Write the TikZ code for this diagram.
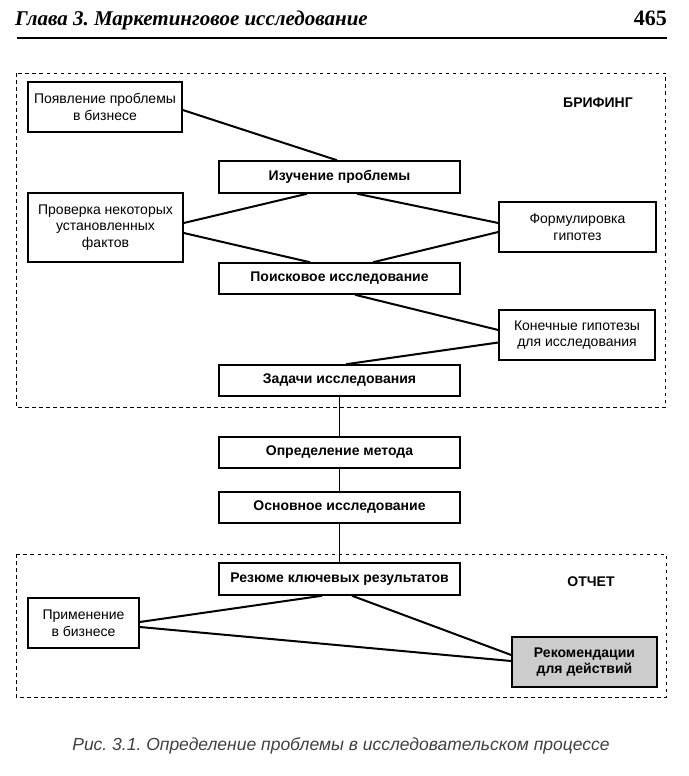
\documentclass[tikz,border=0pt]{standalone}
\usepackage{fontspec}
\setmainfont{Liberation Sans}
\newfontfamily\headfont{Liberation Serif}
\frenchspacing
\begin{document}
\begin{tikzpicture}[x=1pt,y=-1pt,
  box/.style={draw, line width=1.5pt, inner sep=0pt, align=center, font=\fontsize{14}{16.5}\selectfont},
  bbox/.style={box, font=\fontsize{14}{16.5}\selectfont\bfseries},
  link/.style={line width=2pt},
  frame/.style={line width=0.8pt, dash pattern=on 3.5pt off 3.5pt},
  lbl/.style={font=\fontsize{14}{16}\selectfont\bfseries, inner sep=0pt}]
\useasboundingbox (0,0) rectangle (688,776);
% header
\node[anchor=base west, inner sep=0pt, font=\headfont\fontsize{21}{24}\selectfont\bfseries\itshape] (hd) at (15,26) {Глава 3. Маркетинговое исследование};
\node[anchor=base east, inner sep=0pt, font=\headfont\fontsize{22}{24}\selectfont\bfseries] (pg) at (667,26) {465};
\draw[line width=1.4pt] (hd.base west) ++(2,12) coordinate (r1) -- (667,38) coordinate (r2);
% frames
\draw[frame] (16,73) rectangle (665,407);
\draw[frame] (16,554) rectangle (666,697);
\node[lbl] (brif) at (598,103) {БРИФИНГ};
\node[lbl] (otch) at (591,582) {ОТЧЕТ};
% nodes
\node[box, minimum width=154pt, minimum height=50pt] (p1) at (105,107) {Появление проблемы\\в бизнесе};
\node[bbox, minimum width=241pt, minimum height=32pt] (izuch) at (339.5,177) {Изучение проблемы};
\node[box, minimum width=155pt, minimum height=69pt] (prov) at (105.5,227.5) {Проверка некоторых\\установленных\\фактов};
\node[box, minimum width=157pt, minimum height=50pt] (form) at (577.5,227) {Формулировка\\гипотез};
\node[bbox, minimum width=241pt, minimum height=31pt] (poisk) at (339.5,278.5) {Поисковое исследование};
\node[box, minimum width=156pt, minimum height=50pt] (konech) at (577,335) {Конечные гипотезы\\для исследования};
\node[bbox, minimum width=241pt, minimum height=31pt] (zad) at (339.5,380.5) {Задачи исследования};
\node[bbox, minimum width=241pt, minimum height=31pt] (opred) at (339.5,452.5) {Определение метода};
\node[bbox, minimum width=241pt, minimum height=31pt] (osnov) at (339.5,507.5) {Основное исследование};
\node[bbox, minimum width=241pt, minimum height=32pt] (rez) at (339.5,579) {Резюме ключевых результатов};
\node[box, minimum width=111pt, minimum height=50pt] (prim) at (83.5,623) {Применение\\в бизнесе};
\node[bbox, fill=black!20, minimum width=145pt, minimum height=50pt] (rek) at (584.5,662) {Рекомендации\\для действий};
% connectors
\draw[link] ([yshift=-3pt]p1.east) -- ([xshift=-2.5pt]izuch.north);
\draw[link] ([yshift=4.5pt]prov.east) -- ([xshift=-32.5pt]izuch.south);
\draw[link] ([yshift=-5.5pt]prov.east) -- ([xshift=-29.5pt]poisk.north);
\draw[link] ([xshift=17.5pt]izuch.south) -- ([yshift=4pt]form.west);
\draw[link] ([yshift=-5pt]form.west) -- ([xshift=33.5pt]poisk.north);
\draw[link] ([xshift=15.5pt]poisk.south) -- ([yshift=5pt]konech.west);
\draw[link] ([yshift=-7.5pt]konech.west) -- ([xshift=6.5pt]zad.north);
\draw[line width=1pt] (zad.south) -- (opred.north);
\draw[line width=1pt] (opred.south) -- (osnov.north);
\draw[line width=1pt] (osnov.south) -- (rez.north);
\draw[link] ([xshift=-17.5pt]rez.south) -- ([yshift=1pt]prim.east);
\draw[link] ([xshift=12.5pt]rez.south) -- ([yshift=7pt]rek.west);
\draw[link] ([yshift=-4pt]prim.east) -- ([yshift=1pt]rek.west);
% caption
\node[inner sep=0pt, text=black!75, font=\fontsize{17.5}{19}\selectfont\itshape] (cap) at (341,746) {Рис. 3.1. Определение проблемы в исследовательском процессе};
\end{tikzpicture}
\end{document}
